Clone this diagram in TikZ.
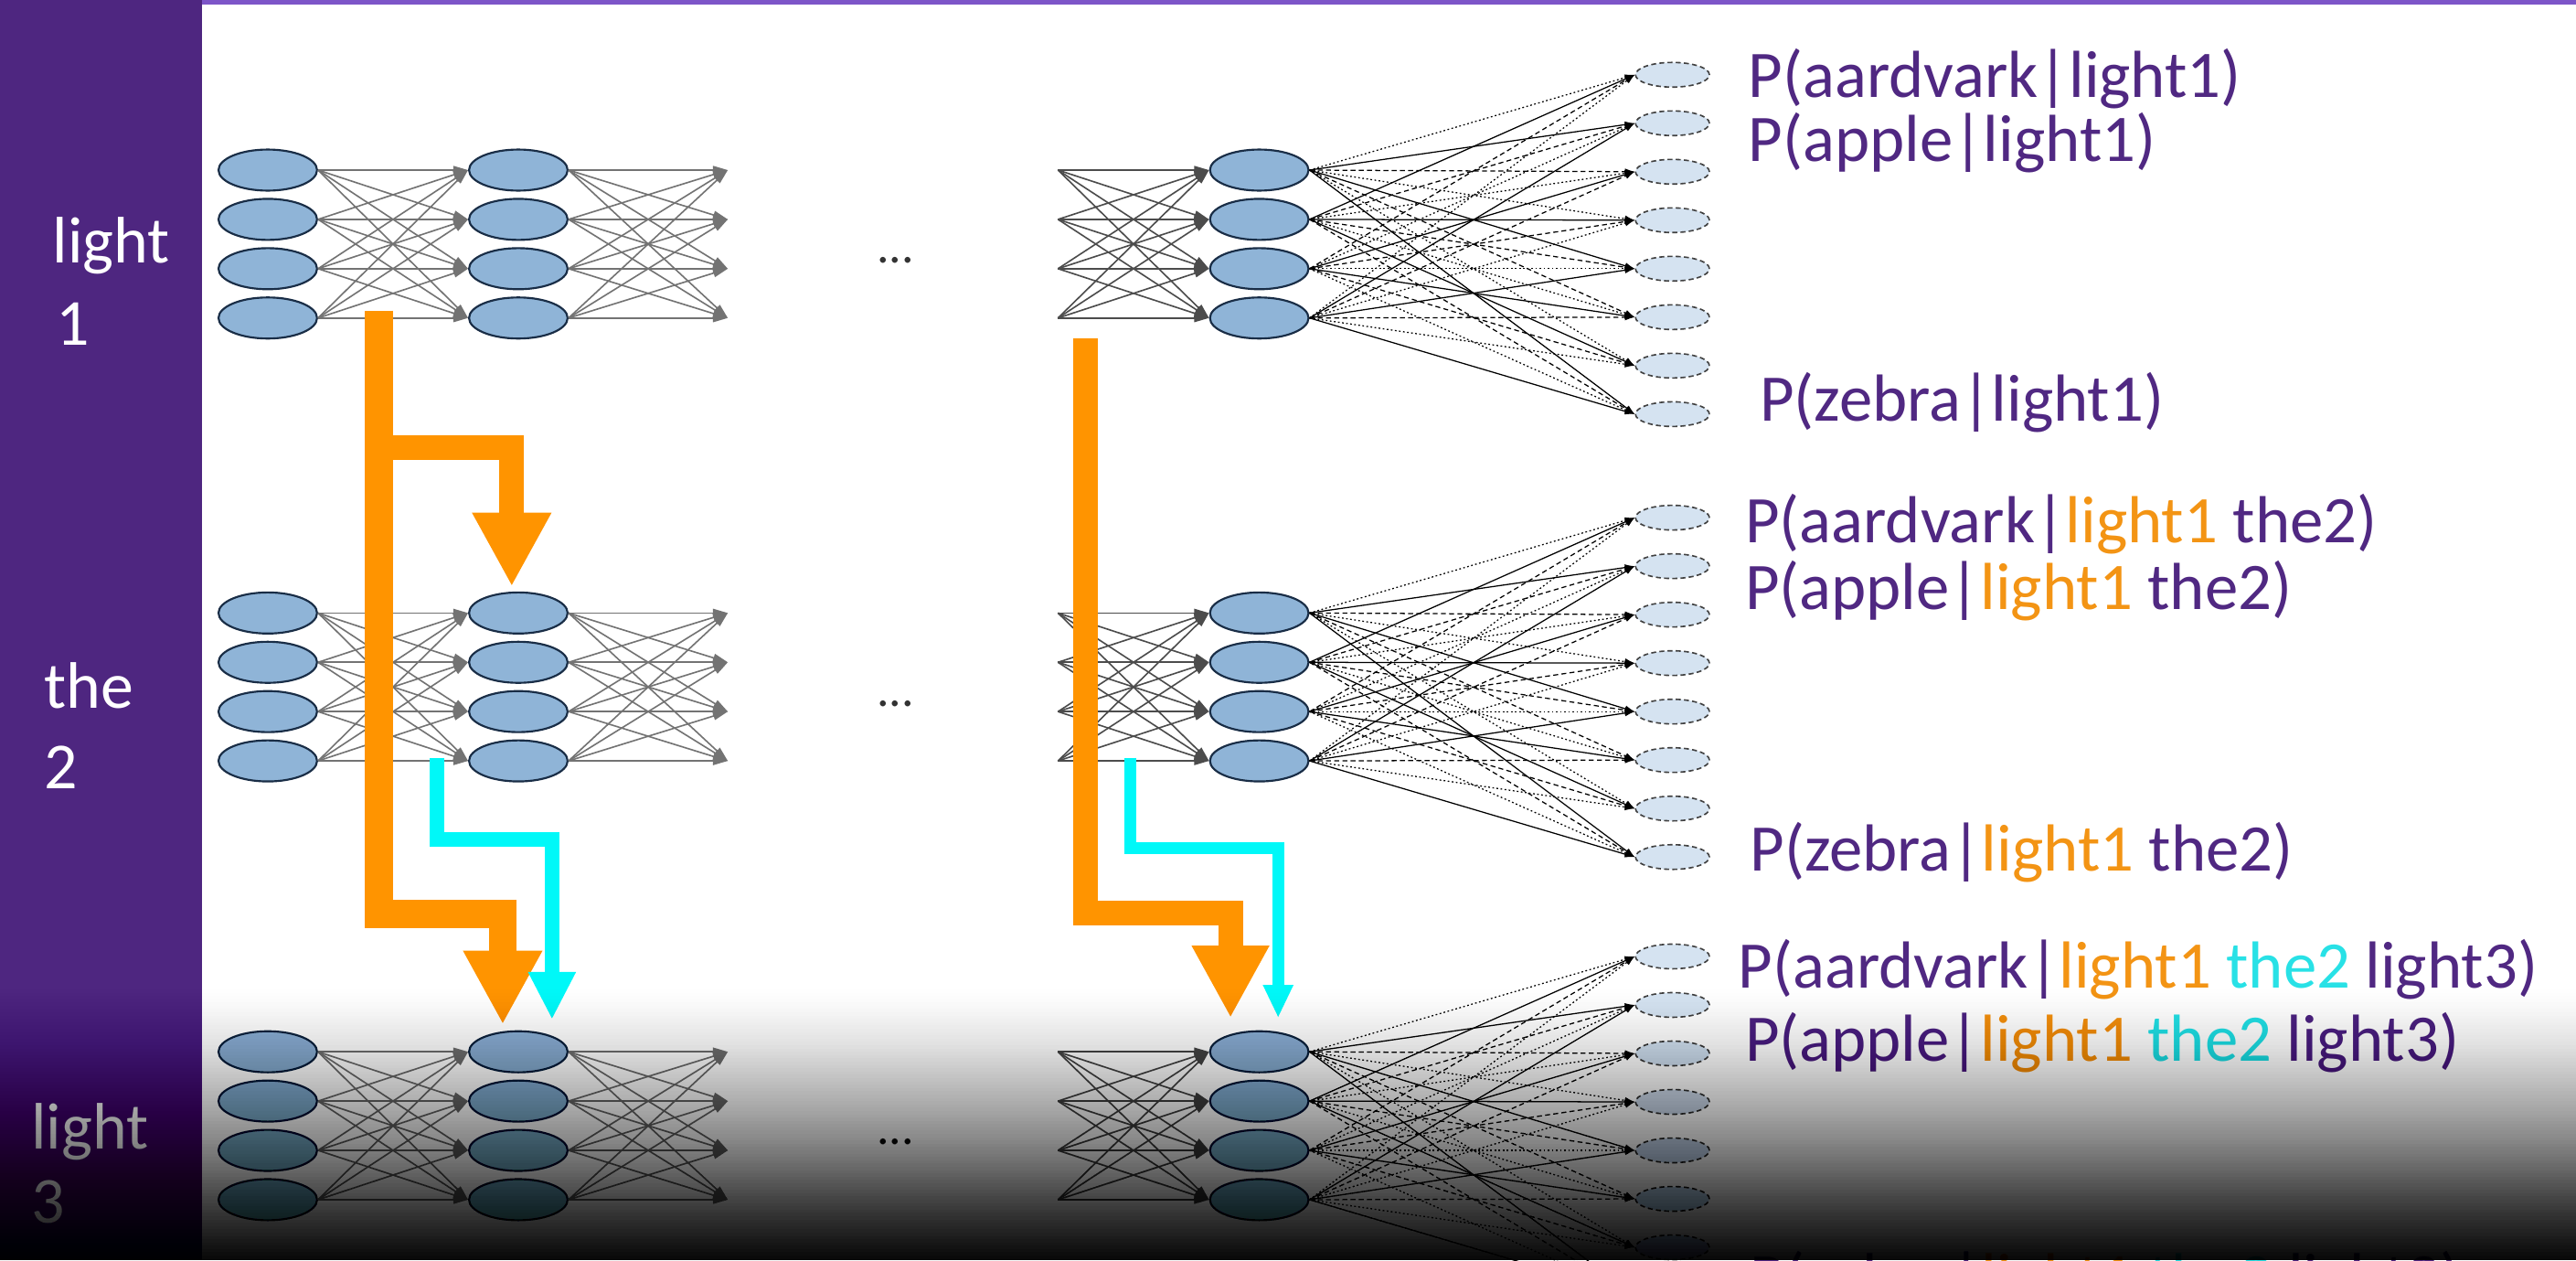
\documentclass[tikz,border=0pt]{standalone}
\usepackage{fontspec}
\setmainfont{Carlito}
\usetikzlibrary{shapes.geometric, arrows.meta}

\definecolor{barpurple}{RGB}{78,38,128}
\definecolor{toppurple}{RGB}{125,85,200}
\definecolor{txtpurple}{RGB}{80,40,130}
\definecolor{txtorange}{RGB}{243,148,20}
\definecolor{txtcyan}{RGB}{40,225,230}
\definecolor{arrorange}{RGB}{255,148,0}
\definecolor{arrcyan}{RGB}{0,248,248}
\definecolor{unitfill}{RGB}{143,180,215}
\definecolor{unitline}{RGB}{25,45,70}
\definecolor{outfill}{RGB}{213,227,241}

\tikzset{
  unit/.style={ellipse, draw=unitline, fill=unitfill, line width=1.2pt,
    minimum width=60pt, minimum height=25pt, inner sep=0pt},
  outunit/.style={ellipse, draw=black!75, fill=outfill, line width=0.9pt,
    dash pattern=on 3pt off 2pt, minimum width=45pt, minimum height=15pt, inner sep=0pt},
  grey wire/.style={draw=black!55, line width=0.9pt, -{Triangle[length=9pt, width=5pt]}},
  cw0/.style={draw=black, line width=0.7pt, -{Latex[length=6pt, width=4pt]}},
  cw1/.style={cw0, dash pattern=on 3pt off 2pt},
  cw2/.style={cw0, dash pattern=on 1pt off 1.5pt},
  orange path/.style={draw=arrorange, line width=17pt, line join=miter,
    -{Triangle[length=45pt, width=45pt]}},
  cyan path/.style={draw=arrcyan, line width=9pt, line join=miter,
    -{Triangle[length=29pt, width=27pt]}},
  lbl/.style={anchor=base west, text=txtpurple, inner sep=0pt,
    font=\fontsize{40.5}{48}\selectfont},
  barlbl/.style={anchor=base west, text=white, inner sep=0pt,
    font=\fontsize{40}{48}\selectfont},
  dots/.style={text=black!80, font=\fontsize{30}{30}\selectfont}
}

\begin{document}
\begin{tikzpicture}[x=1pt, y=-1pt]
  \useasboundingbox (0,0) rectangle (1568,767);
  \clip (0,0) rectangle (1568,767);
  \fill[white] (0,0) rectangle (1568,767);
  \fill[barpurple] (0,0) rectangle (123,767);
  \draw[toppurple, line width=3pt] (123,1.5) -- (1568,1.5);

  % words of the sequence
  \node[barlbl] (w1a) at (32,160) {light};
  \node[barlbl] (w1b) at (34,210) {1};
  \node[barlbl] (w2a) at (27,431) {the};
  \node[barlbl] (w2b) at (27,480) {2};
  \node[barlbl] (w3a) at (19,699) {light};
  \node[barlbl] (w3b) at (19,744) {3};

  % one unrolled network per time step
  \foreach \r/\y in {1/103.5, 2/373, 3/640}{
    \foreach \i in {1,...,4}{
      \node[unit] (a\r-\i) at (163, \y+30*\i-30) {};
      \node[unit] (b\r-\i) at (315.5, \y+30*\i-30) {};
      \node[unit] (c\r-\i) at (766.5, \y+30*\i-30) {};
      \coordinate (bo\r-\i) at (443, \y+30*\i-30);
      \coordinate (ci\r-\i) at (644, \y+30*\i-30);
    }
    \foreach \k in {1,...,8}
      \node[outunit] (o\r-\k) at (1018, \y-58+29.5*\k-29.5) {};
    \node[dots] (dots\r) at (545, \y+55) {...};
  }

  \foreach \r in {1,2,3}{
    \foreach \i in {1,...,4}
      \foreach \j in {1,...,4}{
        \draw[grey wire] (a\r-\i.east) -- (b\r-\j.west);
        \draw[grey wire] (b\r-\i.east) -- (bo\r-\j);
        \draw[grey wire, draw=black!70] (ci\r-\i) -- (c\r-\j.west);
      }
    \foreach \i in {1,...,4}
      \foreach \k in {1,...,8}{
        \pgfmathtruncatemacro\m{mod(\i+\k,3)}
        \draw[cw\m] (c\r-\i.east) -- (o\r-\k.west);
      }
  }

  % output distributions
  \node[lbl] (p1-a) at (1064,59.5) {P(aardvark|light1)};
  \node[lbl] (p1-b) at (1064,98) {P(apple|light1)};
  \node[lbl] (p1-z) at (1071,256) {P(zebra|light1)};
  \node[lbl] (p2-a) at (1062,330) {P(aardvark|\textcolor{txtorange}{light1} the2)};
  \node[lbl] (p2-b) at (1062,371) {P(apple|\textcolor{txtorange}{light1} the2)};
  \node[lbl] (p2-z) at (1065,530) {P(zebra|\textcolor{txtorange}{light1} the2)};
  \node[lbl] (p3-a) at (1058,601) {P(aardvark|\textcolor{txtorange}{light1} \textcolor{txtcyan}{the2} light3)};
  \node[lbl] (p3-b) at (1062,645.5) {P(apple|\textcolor{txtorange}{light1} \textcolor{txtcyan}{the2} light3)};
  \node[lbl] (p3-z) at (1065,791) {P(zebra|\textcolor{txtorange}{light1} \textcolor{txtcyan}{the2} light3)};

  % history carried forward
  \coordinate (lo-top) at (230.5,189);
  \coordinate (lo-split) at (230.5,272.5);
  \coordinate (ro-top) at (660.5,206);
  \coordinate (lc-top) at (266,461);
  \coordinate (rc-top) at (688,461);
  \draw[orange path, line width=15pt] (lo-split) -| ([xshift=-4pt, yshift=3pt]b2-1.north);
  \draw[orange path] (lo-top) -- ++(0,367) -| ([xshift=-9.5pt, yshift=3.5pt]b3-1.north);
  \draw[cyan path] (lc-top) -- ++(0,50) -| ([xshift=20.5pt, yshift=6.5pt]b3-1.north);
  \draw[orange path, line width=15pt, -{Triangle[length=44pt, width=44pt]}]
    (ro-top) -- ++(0,349.5) -| ([xshift=-17.5pt, yshift=7.5pt]c3-1.north);
  \draw[cyan path, line width=7pt, -{Triangle[length=20pt, width=17pt]}]
    (rc-top) -- ++(0,55) -| ([xshift=11.5pt, yshift=7.5pt]c3-1.north);

  % darkening at the bottom
  \foreach \k in {1,...,84}{
    \pgfmathsetmacro\ya{600+2*(\k-1)}
    \pgfmathsetmacro\ta{1-0.95*(((\k-1)*2+0.001)/167)^1.4}
    \pgfmathsetmacro\tb{1-0.95*((\k*2)/167)^1.4}
    \pgfmathsetmacro\op{1-\tb/\ta}
    \fill[black, fill opacity=\op] (0,\ya) rectangle (1568,767);
  }
\end{tikzpicture}
\end{document}
